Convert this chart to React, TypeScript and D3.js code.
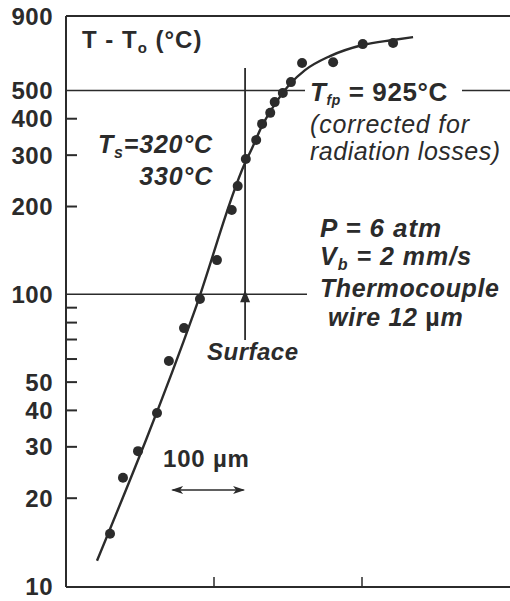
import React from "react";
import * as d3 from "d3";

// Measured thermocouple points: distance (µm) and temperature rise T - To (°C)
const depthUm = [59.5, 77, 97.3, 123, 139, 159.5, 181, 204, 224, 232, 243, 257, 265, 276, 282, 293, 304, 319, 361, 401, 442];
const tempRise = [15.1, 23.5, 29.0, 39.2, 59.1, 76.6, 96.4, 131, 194.5, 235, 291, 338, 384, 419, 456, 490, 534, 621, 625, 721, 727];

// Fitted profile
const fitDepth = [41.9, 174.3, 241.9, 251.4, 264.9, 282.4, 302.7, 323, 356.8, 401, 442, 469];
const fitTemp = [12.2, 88.4, 282, 317, 378, 449, 526, 587, 656, 716, 745, 762];

// Axis labels and ticks
const yTickLabels = [900, 500, 400, 300, 200, 100, 50, 40, 30, 20, 10];
const yMinorTicks = [20, 30, 40, 50, 60, 70, 80, 90, 200, 300, 400];
const xTicks = [200, 400];

// Reference lines
const refTemps = [500, 100];
const surfaceDepth = 242;

const W = 510;
const H = 601;
const ink = "#2b2b2b";
const font = "'Liberation Sans', Arial, Helvetica, sans-serif";

export default function App() {
  const x = d3.scaleLinear().domain([0, 600]).range([66, 510]);
  const y = d3.scaleLog().domain([10, 900]).range([586, 16]);

  const line = d3
    .line<number>()
    .x((_, i) => x(fitDepth[i]))
    .y((d) => y(d))
    .curve(d3.curveMonotoneX);

  const x0 = x(0);
  const yBottom = y(10);
  const yTop = y(900);
  const sx = x(surfaceDepth);

  return (
    <svg
      width={W}
      height={H}
      style={{ position: "absolute", left: 0, top: 0, background: "#fff" }}
      fontFamily={font}
    >
      <rect x={0} y={0} width={W} height={H} fill="#fff" />
      {/* frame */}
      <line x1={x0} y1={yTop} x2={W} y2={yTop} stroke={ink} strokeWidth={2} />
      <line x1={x0} y1={yTop} x2={x0} y2={yBottom + 1} stroke={ink} strokeWidth={2} />
      <line x1={x0} y1={yBottom + 1} x2={W} y2={yBottom + 1} stroke={ink} strokeWidth={2} />

      {/* y minor ticks */}
      {yMinorTicks.map((t) => (
        <line key={"yt" + t} x1={x0} x2={x0 + 11} y1={y(t)} y2={y(t)} stroke={ink} strokeWidth={2} />
      ))}
      {/* x ticks */}
      {xTicks.map((t) => (
        <line key={"xt" + t} x1={x(t)} x2={x(t)} y1={yBottom + 1} y2={yBottom - 9} stroke={ink} strokeWidth={1.5} />
      ))}

      {/* y labels */}
      {yTickLabels.map((t) => (
        <text
          key={"yl" + t}
          x={53}
          y={y(t)}
          dy="0.36em"
          textAnchor="end"
          fontSize={24}
          fontWeight="bold"
          letterSpacing={0.5}
          fill={ink}
        >
          {t}
        </text>
      ))}

      {/* reference horizontal lines */}
      <line x1={x0} x2={305} y1={y(refTemps[0])} y2={y(refTemps[0])} stroke={ink} strokeWidth={1.5} />
      <line x1={462} x2={W} y1={y(refTemps[0])} y2={y(refTemps[0])} stroke={ink} strokeWidth={1.5} />
      <line x1={x0} x2={307} y1={y(refTemps[1])} y2={y(refTemps[1])} stroke={ink} strokeWidth={1.5} />

      {/* surface line with arrow */}
      <line x1={sx} x2={sx} y1={68} y2={340} stroke={ink} strokeWidth={1.8} />
      <path
        d={`M${sx},${y(100) - 4} L${sx - 5},${y(100) + 8} L${sx + 5},${y(100) + 8} Z`}
        fill={ink}
      />

      {/* fit curve */}
      <path d={line(fitTemp) || ""} fill="none" stroke={ink} strokeWidth={2.4} />

      {/* data points */}
      {depthUm.map((d, i) => (
        <circle key={"p" + i} cx={x(d)} cy={y(tempRise[i])} r={5} fill={ink} />
      ))}

      {/* axis title */}
      <text x={82} y={48} fontSize={24} fontWeight="bold" letterSpacing={1} fill={ink}>
        T - T
        <tspan fontSize={15} dy={5}>o</tspan>
        <tspan dy={-5}> (°C)</tspan>
      </text>

      {/* Ts annotation */}
      <text x={98} y={153} fontSize={25} fontWeight="bold" fontStyle="italic" letterSpacing={0.8} fill={ink}>
        T
        <tspan fontSize={16} dy={5}>s</tspan>
        <tspan dy={-5}>=320°C</tspan>
      </text>
      <text x={213} y={185} textAnchor="end" fontSize={25} fontWeight="bold" fontStyle="italic" letterSpacing={0.8} fill={ink}>
        330°C
      </text>

      {/* Tfp annotation */}
      <text x={310} y={101} fontSize={26} fontWeight="bold" letterSpacing={0.6} fill={ink}>
        <tspan fontStyle="italic">T</tspan>
        <tspan fontStyle="italic" fontSize={14} dy={4}>fp</tspan>
        <tspan dy={-4}> = 925°C</tspan>
      </text>
      <text x={310} y={133} fontSize={25} fontStyle="italic" letterSpacing={0.8} fill={ink}>
        (corrected for
      </text>
      <text x={310} y={160} fontSize={25} fontStyle="italic" letterSpacing={0.5} fill={ink}>
        radiation losses)
      </text>

      {/* conditions */}
      <text x={320} y={237} fontSize={26} fontWeight="bold" fontStyle="italic" letterSpacing={0.9} fill={ink}>
        P = 6 atm
      </text>
      <text x={320} y={265} fontSize={25} fontWeight="bold" fontStyle="italic" letterSpacing={1} fill={ink}>
        V
        <tspan fontSize={16} dy={5}>b</tspan>
        <tspan dy={-5}> = 2 mm/s</tspan>
      </text>
      <text x={320} y={297} fontSize={25} fontWeight="bold" fontStyle="italic" letterSpacing={0.6} fill={ink}>
        Thermocouple
      </text>
      <text x={328} y={326} fontSize={25} fontWeight="bold" fontStyle="italic" letterSpacing={0.7} fill={ink}>
        wire 12 <tspan fontStyle="normal">µ</tspan>m
      </text>

      {/* Surface label */}
      <text x={207} y={360} fontSize={24} fontWeight="bold" fontStyle="italic" letterSpacing={0.5} fill={ink}>
        Surface
      </text>

      {/* scale bar */}
      <text x={163} y={467} fontSize={24} fontWeight="bold" letterSpacing={0.8} fill={ink}>
        100 µm
      </text>
      <line x1={x(144)} x2={x(240)} y1={490} y2={490} stroke={ink} strokeWidth={1.5} />
      <path d={`M${x(142)},490 l12,-4 l-3,4 l3,4 Z`} fill={ink} />
      <path d={`M${x(242)},490 l-12,-4 l3,4 l-3,4 Z`} fill={ink} />
    </svg>
  );
}
